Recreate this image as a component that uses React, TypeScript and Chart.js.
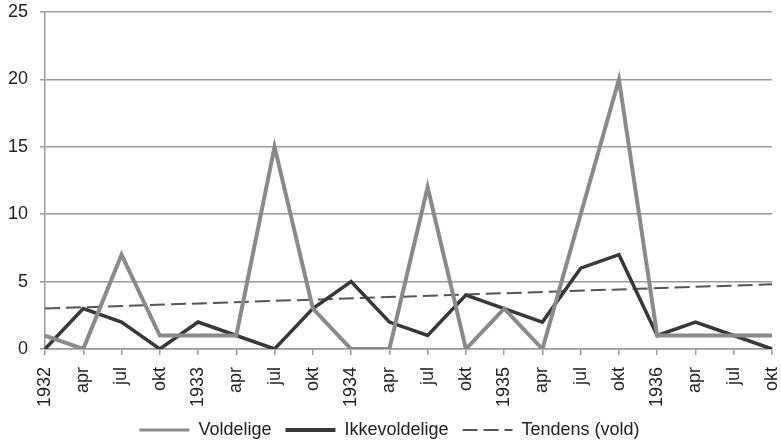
import React, { useEffect, useRef } from "react";
import { Chart, registerables } from "chart.js";

Chart.register(...registerables);

const categories = ["1932", "apr", "jul", "okt", "1933", "apr", "jul", "okt", "1934", "apr", "jul", "okt", "1935", "apr", "jul", "okt", "1936", "apr", "jul", "okt"];
const voldelige = [1, 0, 7, 1, 1, 1, 15, 3, 0, 0, 12, 0, 3, 0, 10, 20, 1, 1, 1, 1];
const ikkevoldelige = [0, 3, 2, 0, 2, 1, 0, 3, 5, 2, 1, 4, 3, 2, 6, 7, 1, 2, 1, 0];
const trendStart = 3.0;
const trendEnd = 4.8;
const tendens = categories.map((_, i) => (i === 0 ? trendStart : i === categories.length - 1 ? trendEnd : null));
const yTicks = [0, 5, 10, 15, 20, 25];

export default function App() {
  const ref = useRef<HTMLCanvasElement | null>(null);
  useEffect(() => {
    if (!ref.current) return;
    const font = { family: "'Liberation Sans', Arial, sans-serif", size: 18 };
    const legendWidths = [3, 4, 2];
    const chart = new Chart(ref.current, {
      type: "line",
      data: {
        labels: categories,
        datasets: [
          { label: "Voldelige", data: voldelige, borderColor: "#8a8a8a", backgroundColor: "#8a8a8a", borderWidth: 4, pointRadius: 0, tension: 0 },
          { label: "Ikkevoldelige", data: ikkevoldelige, borderColor: "#383838", backgroundColor: "#383838", borderWidth: 3.5, pointRadius: 0, tension: 0 },
          { label: "Tendens (vold)", data: tendens, borderColor: "#555555", backgroundColor: "#555555", borderWidth: 2, borderDash: [15, 6], pointRadius: 0, spanGaps: true, tension: 0 },
        ],
      },
      options: {
        animation: false,
        responsive: true,
        maintainAspectRatio: false,
        layout: { padding: { top: 12, right: 9, left: 7, bottom: 0 } },
        plugins: {
          tooltip: { enabled: false },
          legend: {
            position: "bottom",
            maxHeight: 39,
            labels: {
              usePointStyle: true,
              pointStyle: "line",
              pointStyleWidth: 50,
              boxWidth: 50,
              boxHeight: 6,
              color: "#222",
              font,
              padding: 14,
              generateLabels: (c: any) => {
                const items = Chart.defaults.plugins.legend.labels.generateLabels(c);
                return items.map((it: any) => {
                  const ds: any = c.data.datasets[it.datasetIndex];
                  return {
                    ...it,
                    strokeStyle: ds.borderColor,
                    fillStyle: ds.borderColor,
                    lineWidth: legendWidths[it.datasetIndex],
                    lineDash: ds.borderDash || [],
                    pointStyle: "line",
                  };
                });
              },
            },
          },
        },
        scales: {
          x: {
            offset: false,
            afterFit: (axis: any) => {
              axis.height = 58;
              axis.paddingLeft = 0;
              axis.paddingRight = 0;
            },
            grid: { drawOnChartArea: false, drawTicks: true, tickLength: 6, color: "#9a9a9a", tickColor: "#9a9a9a", lineWidth: 1.5, tickWidth: 1.5 },
            border: { display: true, color: "#9a9a9a", width: 1.5 },
            ticks: { minRotation: 90, maxRotation: 90, color: "#222", font, padding: 12, autoSkip: false },
          },
          y: {
            min: 0,
            max: 25,
            afterFit: (axis: any) => {
              axis.width = 38;
              axis.paddingTop = 0;
              axis.paddingBottom = 0;
            },
            afterBuildTicks: (axis: any) => { axis.ticks = yTicks.map((v) => ({ value: v })); },
            grid: { color: "#9a9a9a", lineWidth: 1.5, tickLength: 5 },
            border: { display: true, color: "#9a9a9a", width: 1.5 },
            ticks: { color: "#222", font, padding: 12 },
          },
        },
      },
    });
    return () => chart.destroy();
  }, []);
  return (
    <div style={{ position: "absolute", left: 0, top: 0, width: 781, height: 446 }}>
      <canvas ref={ref} />
    </div>
  );
}
